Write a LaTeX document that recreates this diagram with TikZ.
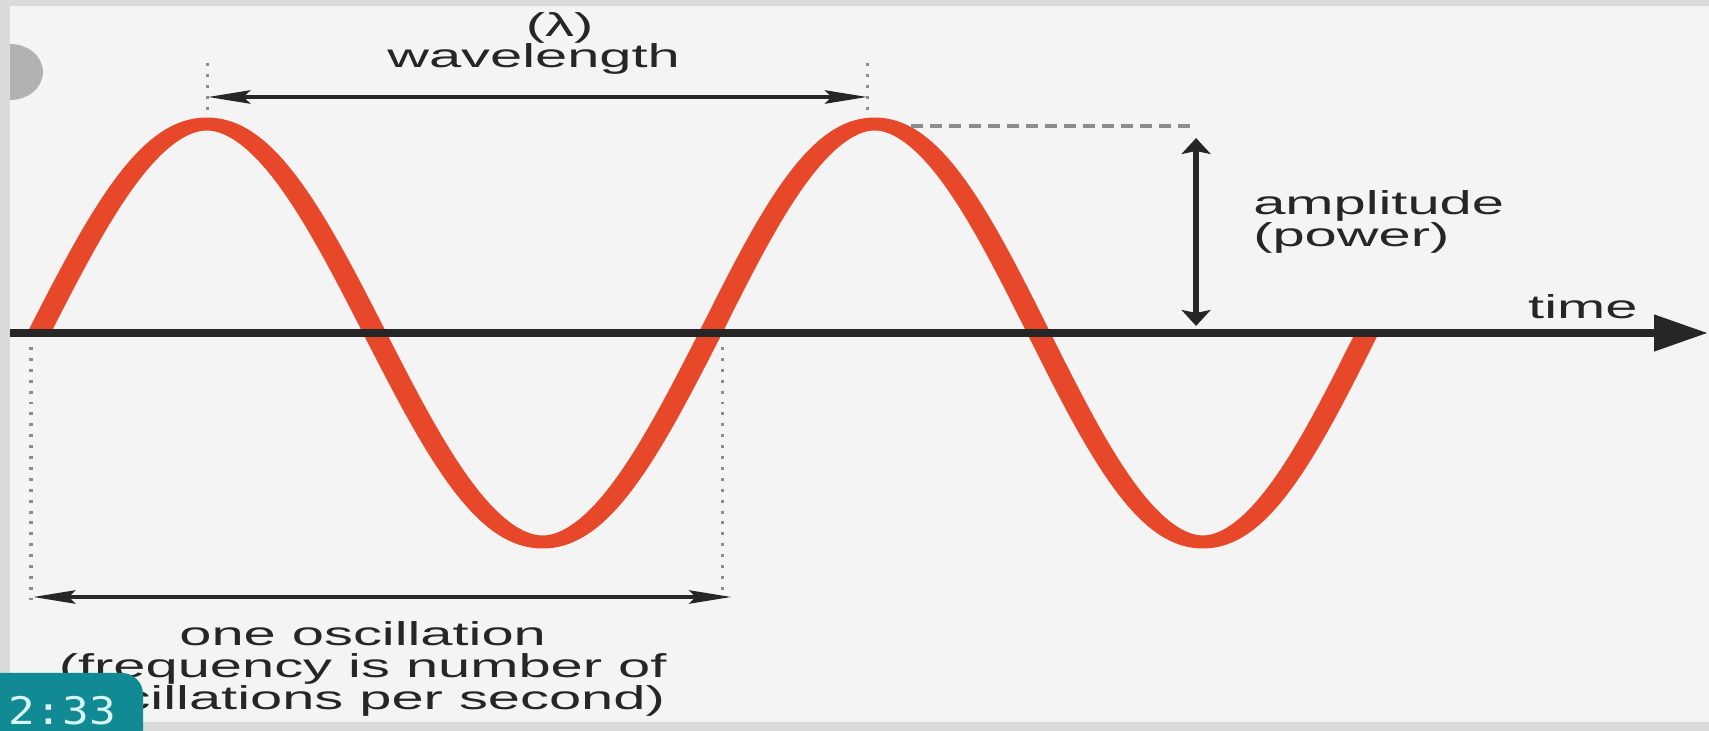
\documentclass[tikz,border=0pt]{standalone}
\usepackage{fontspec}
\setmainfont{Liberation Sans}
\newfontfamily\clockfont{DejaVu Sans Mono}
\usepackage{xcolor}
\usepackage{tikz}
\usetikzlibrary{arrows.meta,positioning}
\definecolor{wavered}{RGB}{231,72,42}
\definecolor{ink}{RGB}{38,38,38}
\definecolor{panel}{RGB}{244,244,244}
\definecolor{frame}{RGB}{218,218,216}
\definecolor{knob}{RGB}{178,178,178}
\definecolor{badge}{RGB}{18,138,148}
\definecolor{badgetext}{RGB}{215,245,245}

\begin{document}
\begin{tikzpicture}[x=0.01cm,y=-0.01cm,>=Stealth,
  lbl/.style={inner sep=0pt,text=ink,font=\fontsize{9.4}{9.1}\selectfont},
  wave/.style={wavered,line width=3.7pt},
  dim/.style={<->,ink,line width=1.1pt,>={Stealth[length=6.8pt,width=3.7pt,inset=1pt]}},
  amp/.style={<->,ink,line width=1.1pt,>={Stealth[length=4.5pt,width=4.6pt,inset=0.8pt]}},
  guide/.style={black!45,line width=0.5pt,dash pattern=on 0.85pt off 2.25pt}]
  \useasboundingbox (0,0) rectangle (1709,731);
  % screen frame
  \fill[frame] (0,0) rectangle (1709,731);
  \fill[panel] (10,6) rectangle (1709,722);
  \fill[knob] (10,72) ellipse [x radius=33,y radius=28];
  \fill[frame] (0,0) rectangle (10,731);
  % the drawing itself is stretched sideways
  \begin{scope}[transform canvas={xscale=1.75},x=0.005714cm]
  % the wave, two cycles
  \draw[wave] plot[domain=0:360,samples=91,smooth] ({39+1.8667*\x},{333-209*sin(\x)})
    -- plot[domain=0:360,samples=91,smooth] ({711+1.825*\x},{333-209*sin(\x)});
  % time axis
  \coordinate (t0) at (10,333);  \coordinate (t1) at (1709,333);
  \draw[ink,line width=2.55pt,-{Triangle[length=8.7pt,width=9.9pt]}] (t0) -- (t1);
  % dotted guides
  \draw[guide] (208,63) -- (208,113);  \draw[guide] (868,63) -- (868,113);
  \draw[guide] (31,347) -- (31,600);   \draw[guide] (723,347) -- (723,592);
  % wavelength
  \coordinate (lamL) at (208,97);  \coordinate (lamR) at (868,97);
  \draw[dim] (lamL) -- (lamR);
  \node[lbl,anchor=base] (lam) at (560,37) {(λ)};
  \node[lbl,anchor=base] (wavelen) at (534,68) {wavelength};
  % amplitude
  \coordinate (d0) at (912,126);  \coordinate (ampT) at (1197,126);
  \draw[black!45,line width=1pt,dash pattern=on 1.95pt off 1.15pt] (d0) -- (ampT);
  \coordinate (amp0) at (1197,138);  \coordinate (amp1) at (1197,326);
  \draw[amp] (amp0) -- (amp1);
  \node[lbl,anchor=base west,align=left] (ampl) at (1253,247) {amplitude\\(power)};
  \node[lbl,anchor=base] (time) at (1584,319) {time};
  % one oscillation
  \coordinate (oscL) at (33,597);  \coordinate (oscR) at (732,597);
  \draw[dim] (oscL) -- (oscR);
  \node[lbl,anchor=base,align=center] (osc) at (363,710)
    {one oscillation\\(frequency is number of\\oscillations per second)};
  \end{scope}
  % clock badge
  \fill[badge,rounded corners=6pt] (-30,673) -- (143,673) -- (143,760) -- (-30,760) -- cycle;
  \node[anchor=base west,inner sep=0pt,text=badgetext,xscale=1.17,
    font=\clockfont\fontsize{10.8}{12}\selectfont] (clock) at (8,725) {2:33};
\end{tikzpicture}
\end{document}
